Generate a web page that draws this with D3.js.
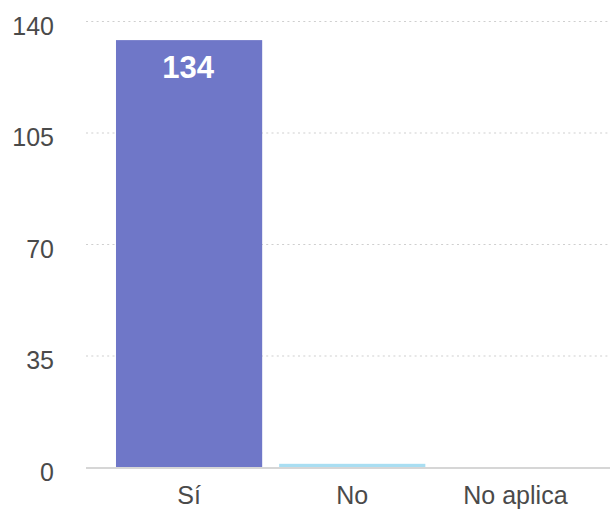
<!DOCTYPE html>
<html>
<head>
<meta charset="utf-8">
<script src="https://cdn.jsdelivr.net/npm/d3@7/dist/d3.min.js"></script>
<style>
  html, body { margin: 0; padding: 0; background: #fff; }
  svg { display: block; font-family: "Helvetica Neue", Helvetica, "Liberation Sans", Arial, sans-serif; }
</style>
</head>
<body>
<svg id="chart" width="610" height="510"></svg>
<script>
// Responses per answer
const categories = ["Sí", "No", "No aplica"];
const values = [134, 1, 0];
const barColors = ["#6f77c8", "#a9def2", "#f2b9c9"];
const yTicks = [0, 35, 70, 105, 140];

const svg = d3.select("#chart");
const plot = { left: 86, right: 610, top: 21, bottom: 467 };

const x = d3.scaleBand()
  .domain(categories)
  .range([107.5, 597])
  .paddingInner(0.104)
  .paddingOuter(0.052);

const y = d3.scaleLinear()
  .domain([0, 140])
  .range([plot.bottom, plot.top]);

// Horizontal dotted grid lines
svg.append("g").selectAll("line")
  .data(yTicks.filter(d => d > 0))
  .join("line")
  .attr("x1", plot.left)
  .attr("x2", plot.right)
  .attr("y1", d => y(d) + 0.5)
  .attr("y2", d => y(d) + 0.5)
  .attr("stroke", "#cfcfcf")
  .attr("stroke-width", 1.2)
  .attr("stroke-dasharray", "2,3.3");

// Y axis labels
const yAxis = d3.axisLeft(y).tickValues(yTicks).tickSize(0).tickPadding(0);
svg.append("g")
  .attr("transform", "translate(54,0)")
  .call(yAxis)
  .call(g => g.select(".domain").remove())
  .selectAll("text")
  .attr("font-size", 25)
  .attr("fill", "#4a4a4a")
  .attr("dy", 13);

// Bars
svg.append("g").selectAll("rect")
  .data(values)
  .join("rect")
  .attr("x", (d, i) => x(categories[i]))
  .attr("width", x.bandwidth())
  .attr("y", d => y(d))
  .attr("height", d => y(0) - y(d))
  .attr("fill", (d, i) => barColors[i]);

// Baseline
svg.append("line")
  .attr("x1", plot.left)
  .attr("x2", plot.right)
  .attr("y1", y(0) + 1)
  .attr("y2", y(0) + 1)
  .attr("stroke", "#d6d6d6")
  .attr("stroke-width", 2);

// Value label inside bars tall enough to hold it
svg.append("g").selectAll("text")
  .data(values.map((v, i) => ({ v, i })).filter(d => y(0) - y(d.v) > 50))
  .join("text")
  .attr("x", d => x(categories[d.i]) + x.bandwidth() / 2 - 1)
  .attr("y", d => y(d.v) + 38)
  .attr("text-anchor", "middle")
  .attr("font-size", 31)
  .attr("font-weight", "bold")
  .attr("fill", "#fff")
  .text(d => d.v);

// Category labels
const xAxis = d3.axisBottom(x).tickSize(0).tickPadding(0);
svg.append("g")
  .attr("transform", `translate(0,${y(0) + 37})`)
  .call(xAxis)
  .call(g => g.select(".domain").remove())
  .selectAll("text")
  .attr("font-size", 25)
  .attr("fill", "#4a4a4a")
  .attr("dy", 0);
</script>
</body>
</html>
